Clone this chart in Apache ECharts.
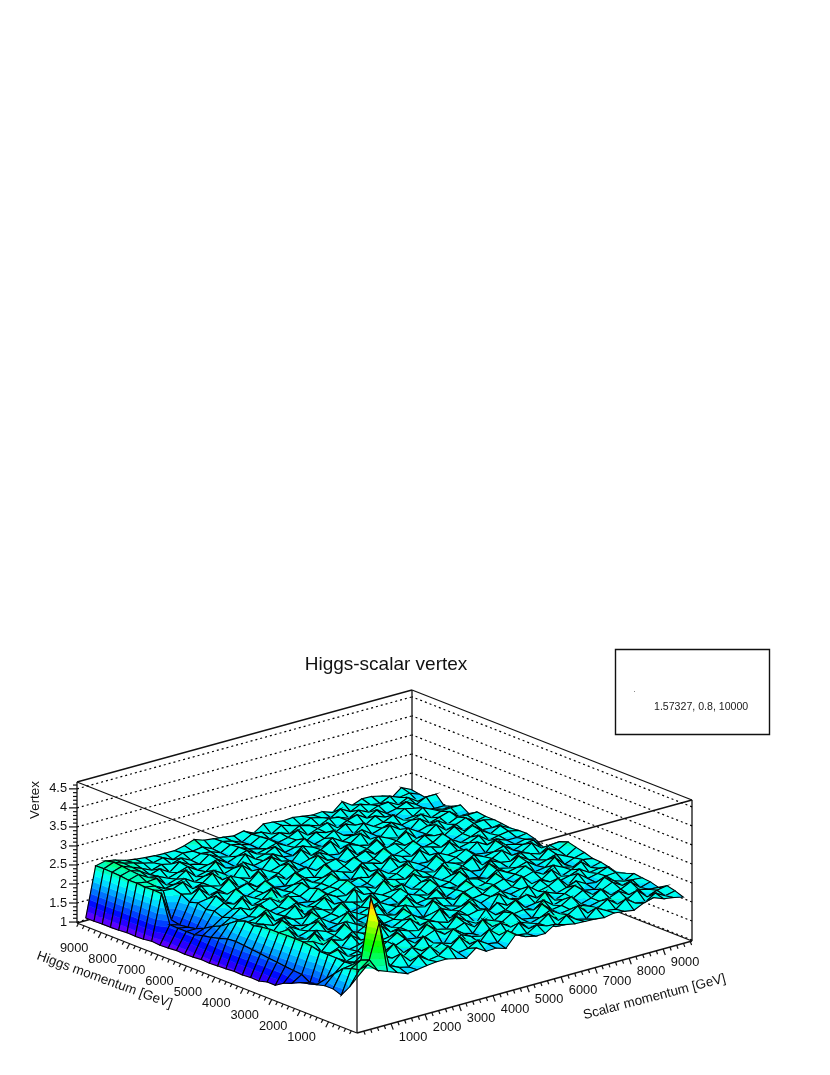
<!DOCTYPE html>
<html>
<head>
<meta charset="utf-8">
<title>Higgs-scalar vertex</title>
<script src="https://cdn.jsdelivr.net/npm/echarts@6/dist/echarts.min.js"></script>
<style>
  html, body { margin: 0; padding: 0; background: #fff; }
  #main { width: 830px; height: 1075px; }
</style>
</head>
<body>
<div id="main"></div>
<script>
// bin centres, GeV
var scalarMomentum = [145,435,725,1015,1305,1595,1885,2175,2465,2755,3045,3335,3625,3915,4205,4495,4785,5075,5365,5655,5945,6235,6525,6815,7105,7395,7685,7975,8265,8555,8845,9135,9425,9715];
var higgsMomentum = [145,435,725,1015,1305,1595,1885,2175,2465,2755,3045,3335,3625,3915,4205,4495,4785,5075,5365,5655,5945,6235,6525,6815,7105,7395,7685,7975,8265,8555,8845,9135,9425,9715];

// vertex: one row per Higgs bin, one column per scalar bin
var vertex = [
[2.38,2.62,2.40, 2.30,2.20,2.10,2.13,2.17,2.20,2.20,2.14,2.08,2.28, 2.12,2.13,2.05,2.34,2.22,2.16,2.16,2.33,2.25,2.20, 2.19,2.18,2.15,2.20,2.17,2.13,2.25,2.32,2.22,2.18, 2.12],
[2.02,2.40,2.59, 3.49,2.30,2.18,2.12,2.34,2.16,2.20,2.38,2.14,2.18, 2.32,2.16,2.12,2.36,2.18,2.14,2.30,2.20,2.12,2.34, 2.16,2.10,2.32,2.18,2.14,2.34,2.16,2.12,2.28,2.14, 2.20],
[1.72,2.35,2.50, 4.06,2.22,2.14,2.38,2.12,2.20,2.36,2.10,2.18,2.40, 2.14,2.10,2.38,2.16,2.08,2.34,2.12,2.18,2.36,2.12, 2.20,2.36,2.10,2.16,2.32,2.12,2.18,2.34,2.10,2.20, 2.25],
[1.80,2.26,2.30, 2.34,2.16,2.30,2.18,2.12,2.32,2.16,2.10,2.22,2.14, 2.30,2.18,2.12,2.20,2.32,2.14,2.20,2.10,2.18,2.30, 2.14,2.18,2.22,2.12,2.18,2.20,2.30,2.14,2.20,2.14, 2.12],
[1.80,2.05,2.28, 2.20,2.38,2.12,2.18,2.40,2.10,2.16,2.38,2.14,2.02, 2.36,2.18,2.10,2.40,2.14,2.20,2.36,2.12,2.08,2.38, 2.16,2.20,2.36,2.10,2.18,2.34,2.12,2.20,2.32,2.10, 2.18],
[1.74,1.83,2.30, 2.14,2.22,2.16,2.32,2.14,2.20,2.30,2.12,2.22,2.32, 2.14,2.20,2.30,2.12,2.24,2.14,2.30,2.18,2.22,2.14, 2.32,2.12,2.20,2.16,2.30,2.12,2.18,2.30,2.14,2.22, 2.20],
[1.68,1.60,2.30, 2.36,2.12,2.18,2.40,2.08,2.22,2.38,2.14,2.10,2.38, 2.18,2.12,2.38,2.20,2.06,2.36,2.14,2.20,2.38,2.12, 2.16,2.38,2.10,2.20,2.34,2.14,2.10,2.34,2.18,2.10, 2.23],
[1.63,1.55,2.30, 2.18,2.28,2.14,2.20,2.30,2.14,2.18,2.30,2.20,2.14, 2.32,2.22,2.14,2.30,2.18,2.24,2.12,2.30,2.16,2.22, 2.30,2.14,2.22,2.12,2.20,2.30,2.16,2.12,2.22,2.24, 2.15],
[1.52,1.68,2.35, 2.14,2.40,2.10,2.36,2.16,2.12,2.40,2.16,2.20,2.36, 2.12,2.18,2.40,2.10,2.22,2.38,2.14,2.02,2.38,2.18, 2.12,2.36,2.16,2.22,2.36,2.10,2.34,2.14,2.20,2.30, 2.07],
[1.44,1.70,2.38, 2.32,2.16,2.22,2.14,2.30,2.18,2.14,2.28,2.12,2.24, 2.32,2.14,2.20,2.26,2.14,2.18,2.32,2.12,2.22,2.30, 2.14,2.20,2.12,2.30,2.18,2.14,2.20,2.30,2.14,2.18, 2.14],
[1.30,1.72,2.38, 2.16,2.38,2.10,2.18,2.40,2.06,2.20,2.38,2.14,2.18, 2.38,2.12,2.02,2.38,2.18,2.10,2.38,2.16,2.20,2.36, 2.12,2.18,2.38,2.12,2.16,2.34,2.10,2.20,2.34,2.12, 2.19],
[1.30,1.75,2.38, 2.22,2.14,2.30,2.20,2.14,2.32,2.18,2.12,2.30,2.20, 2.14,2.32,2.20,2.14,2.30,2.22,2.12,2.24,2.32,2.14, 2.22,2.30,2.14,2.20,2.28,2.14,2.30,2.18,2.12,2.24, 2.20],
[1.24,1.77,2.37, 2.38,2.12,2.20,2.38,2.10,2.16,2.40,2.12,2.18,2.38, 2.08,2.20,2.38,2.14,2.18,2.36,2.10,2.22,2.38,2.12, 2.18,2.36,2.10,2.20,2.34,2.12,2.16,2.36,2.10,2.20, 2.27],
[1.25,1.80,2.37, 2.16,2.30,2.14,2.22,2.32,2.14,2.20,2.28,2.14,2.22, 2.30,2.16,2.12,2.30,2.20,2.14,2.30,2.18,2.14,2.28, 2.20,2.14,2.30,2.16,2.22,2.30,2.12,2.20,2.28,2.16, 2.32],
[1.23,1.82,2.34, 2.12,2.38,2.18,2.10,2.38,2.14,2.20,2.40,2.10,2.16, 2.40,2.14,2.20,2.36,2.06,2.20,2.38,2.12,2.18,2.38, 2.14,2.08,2.38,2.18,2.12,2.36,2.20,2.12,2.34,2.24, 2.38],
[1.24,1.85,2.30, 2.26,2.16,2.30,2.18,2.14,2.32,2.22,2.14,2.28,2.20, 2.14,2.30,2.18,2.22,2.32,2.12,2.24,2.30,2.14,2.20, 2.32,2.16,2.12,2.30,2.18,2.14,2.30,2.20,2.12,2.28, 2.30],
[1.22,1.87,2.33, 2.20,2.40,2.12,2.18,2.38,2.08,2.22,2.38,2.14,2.10, 2.38,2.18,2.12,2.40,2.16,2.10,2.36,2.20,2.14,2.38, 2.12,2.22,2.36,2.10,2.20,2.34,2.14,2.16,2.32,2.12, 2.10],
[1.21,1.85,2.25, 2.14,2.20,2.34,2.14,2.20,2.30,2.12,2.20,2.32,2.18, 2.14,2.30,2.22,2.12,2.28,2.20,2.14,2.32,2.18,2.12, 2.30,2.20,2.14,2.28,2.16,2.22,2.30,2.12,2.20,2.24, 1.99],
[1.20,1.78,2.10, 2.12,2.14,2.36,2.12,2.18,2.40,2.14,2.10,2.38,2.16, 2.22,2.38,2.10,2.16,2.38,2.12,2.20,2.38,2.08,2.16, 2.38,2.12,2.20,2.34,2.14,2.10,2.36,2.18,2.12,2.18, 2.12],
[1.21,1.72,1.95, 2.10,2.28,2.16,2.24,2.32,2.14,2.22,2.16,2.30,2.14, 2.20,2.30,2.14,2.22,2.16,2.30,2.12,2.20,2.30,2.16, 2.14,2.30,2.18,2.22,2.12,2.30,2.16,2.24,2.14,2.14, 2.18],
[1.19,1.68,1.85, 2.02,2.16,2.38,2.12,2.20,2.40,2.12,2.18,2.36,2.10, 2.20,2.38,2.14,2.08,2.38,2.16,2.12,2.38,2.18,2.10, 2.36,2.16,2.10,2.36,2.14,2.20,2.32,2.12,2.18,2.22, 2.17],
[1.18,1.62,1.72, 2.10,2.24,2.14,2.30,2.16,2.22,2.30,2.14,2.22,2.30, 2.14,2.20,2.30,2.20,2.12,2.30,2.22,2.14,2.30,2.18, 2.12,2.30,2.22,2.14,2.28,2.12,2.20,2.30,2.14,2.28, 2.15],
[1.19,1.62,1.62, 2.06,2.34,2.12,2.38,2.10,2.20,2.38,2.14,2.10,2.38, 2.18,2.12,2.38,2.10,2.20,2.36,2.10,2.18,2.38,2.12, 2.20,2.36,2.12,2.18,2.34,2.10,2.20,2.34,2.16,2.14, 2.18],
[1.17,1.62,1.58, 2.14,2.18,2.28,2.16,2.22,2.30,2.14,2.22,2.28,2.12, 2.22,2.30,2.14,2.24,2.30,2.14,2.20,2.30,2.14,2.22, 2.28,2.16,2.12,2.28,2.20,2.14,2.30,2.12,2.24,2.26, 2.20],
[1.16,1.63,1.55, 2.08,2.36,2.12,2.18,2.40,2.12,2.16,2.38,2.10,2.20, 2.38,2.14,2.10,2.38,2.18,2.12,2.36,2.12,2.20,2.36, 2.08,2.20,2.36,2.12,2.16,2.34,2.12,2.20,2.30,2.14, 2.20],
[1.18,2.36,1.60, 2.20,2.14,2.28,2.20,2.14,2.32,2.20,2.12,2.30,2.16, 2.24,2.30,2.12,2.20,2.30,2.16,2.12,2.30,2.20,2.14, 2.30,2.18,2.12,2.30,2.14,2.22,2.28,2.12,2.24,2.22, 2.23],
[1.15,2.37,2.28, 2.26,2.36,2.12,2.20,2.38,2.14,2.10,2.38,2.16,2.12, 2.38,2.20,2.10,2.36,2.14,2.22,2.36,2.10,2.18,2.36, 2.14,2.12,2.36,2.18,2.10,2.32,2.14,2.22,2.30,2.10, 2.10],
[1.14,2.36,2.32, 2.18,2.22,2.30,2.14,2.22,2.30,2.14,2.22,2.30,2.14, 2.20,2.30,2.16,2.12,2.30,2.20,2.14,2.30,2.14,2.22, 2.30,2.12,2.20,2.28,2.14,2.20,2.28,2.12,2.22,2.24, 2.24],
[1.15,2.38,2.34, 2.36,2.12,2.20,2.36,2.12,2.18,2.38,2.14,2.10,2.36, 2.16,2.22,2.34,2.12,2.18,2.34,2.12,2.20,2.34,2.14, 2.10,2.32,2.16,2.20,2.32,2.12,2.14,2.30,2.18,2.12, 2.12],
[1.13,2.37,2.45, 2.30,2.26,2.14,2.22,2.30,2.14,2.20,2.28,2.12,2.22, 2.30,2.14,2.20,2.28,2.14,2.22,2.12,2.28,2.20,2.14, 2.28,2.18,2.12,2.28,2.18,2.12,2.26,2.20,2.12,2.05, 2.05],
[1.12,2.40,2.47, 2.38,2.22,2.30,2.14,2.34,2.20,2.14,2.32,2.18,2.12, 2.30,2.18,2.12,2.30,2.14,2.20,2.32,2.12,2.22,2.30, 2.10,2.22,2.30,2.14,2.28,2.12,2.18,2.28,2.14,2.27, 2.27],
[1.12,2.41,2.50, 2.40,2.30,2.18,2.26,2.20,2.28,2.16,2.26,2.24,2.14, 2.28,2.22,2.14,2.28,2.14,2.24,2.14,2.28,2.22,2.14, 2.26,2.22,2.12,2.26,2.14,2.24,2.26,2.12,2.24,2.07, 2.07],
[1.11,2.42,2.52, 2.42,2.36,2.28,2.22,2.28,2.16,2.26,2.24,2.28,2.16, 2.28,2.22,2.12,2.26,2.24,2.12,2.28,2.20,2.14,2.26, 2.20,2.12,2.28,2.14,2.26,2.18,2.14,2.26,2.16,2.20, 2.10],
[1.11,2.41,2.47, 2.42,2.34,2.30,2.27,2.25,2.24,2.24,2.30,2.39,2.30, 2.27,2.24,2.20,2.26,2.13,2.30,2.28,2.24,2.26,2.22, 2.18,2.20,2.10,2.32,2.15,2.25,2.24,2.18,2.06,2.26, 2.14]
];

var zTicks = [1, 1.5, 2, 2.5, 3, 3.5, 4, 4.5];
var zTickLabels = ['1', '1.5', '2', '2.5', '3', '3.5', '4', '4.5'];
var momentumTicks = [1000, 2000, 3000, 4000, 5000, 6000, 7000, 8000, 9000];

var xMax = 9850, yMax = 9850, zMin = 0.975, zMax = 4.68;
var colorMax = 4.4, nBands = 23;

// box corners on the page
var front = [357, 1033], xEdge = [335, -92], yEdge = [-280, -110], zEdge = 141;

// 3D point to the 830x1075 plane of the hidden axes
function project(x, y, z) {
  var u = x / xMax, v = y / yMax, w = (z - zMin) / (zMax - zMin);
  return [
    front[0] + u * xEdge[0] + v * yEdge[0],
    front[1] + u * xEdge[1] + v * yEdge[1] - w * zEdge
  ];
}

function bandColor(k) {
  var hue = 280 * (1 - (k + 0.5) / nBands);
  return 'hsl(' + Math.max(hue, 0).toFixed(1) + ',100%,50%)';
}

// cut a polygon [x,y,z,...] down to the part between two heights
function clipAbove(poly, level, keepAbove) {
  var out = [];
  for (var n = 0; n < poly.length; n++) {
    var a = poly[n], b = poly[(n + 1) % poly.length];
    var inA = keepAbove ? a[2] >= level : a[2] <= level;
    var inB = keepAbove ? b[2] >= level : b[2] <= level;
    if (inA) out.push(a);
    if (inA !== inB) {
      var t = (level - a[2]) / (b[2] - a[2]);
      out.push([a[0] + t * (b[0] - a[0]), a[1] + t * (b[1] - a[1]), level]);
    }
  }
  return out;
}

function renderCell(params, api) {
  var i = api.value(0), j = api.value(1);
  var poly = [
    [scalarMomentum[i], higgsMomentum[j], vertex[j][i]],
    [scalarMomentum[i + 1], higgsMomentum[j], vertex[j][i + 1]],
    [scalarMomentum[i + 1], higgsMomentum[j + 1], vertex[j + 1][i + 1]],
    [scalarMomentum[i], higgsMomentum[j + 1], vertex[j + 1][i]]
  ];
  var toPage = function (p) { return api.coord(project(p[0], p[1], p[2])); };
  var children = [];
  var step = (colorMax - zMin) / nBands;
  var lo = Math.min(poly[0][2], poly[1][2], poly[2][2], poly[3][2]);
  var hi = Math.max(poly[0][2], poly[1][2], poly[2][2], poly[3][2]);
  for (var k = Math.max(0, Math.floor((lo - zMin) / step)); k < nBands; k++) {
    var bottom = zMin + k * step;
    if (bottom > hi) break;
    var piece = clipAbove(clipAbove(poly, bottom, true), bottom + step, false);
    if (piece.length < 3) continue;
    var c = bandColor(k);
    children.push({
      type: 'polygon',
      shape: { points: piece.map(toPage) },
      style: { fill: c, stroke: c, lineWidth: 0.5 }
    });
  }
  children.push({
    type: 'polygon',
    shape: { points: poly.map(toPage) },
    style: { fill: 'none', stroke: '#000', lineWidth: 1.1 }
  });
  return { type: 'group', children: children };
}

// surface cells, far corner first so nearer ones paint over
var cells = [];
for (var j = higgsMomentum.length - 2; j >= 0; j--) {
  for (var i = scalarMomentum.length - 2; i >= 0; i--) {
    cells.push([i, j]);
  }
}

// [x1,y1,z1,x2,y2,z2,dotted]
var backLines = [
  [0, yMax, zMin, xMax, yMax, zMin, 0],
  [xMax, 0, zMin, xMax, yMax, zMin, 0],
  [xMax, yMax, zMin, xMax, yMax, zMax, 0],
  [xMax, 0, zMin, xMax, 0, zMax, 0],
  [0, yMax, zMax, xMax, yMax, zMax, 0],
  [xMax, 0, zMax, xMax, yMax, zMax, 0],
  [0, yMax, zMax, 0, 0, zMax, 0],
  [xMax, 0, zMax, 0, 0, zMax, 0]
];
zTicks.forEach(function (z) {
  backLines.push([0, yMax, z, xMax, yMax, z, 1]);
  backLines.push([xMax, 0, z, xMax, yMax, z, 1]);
});

function renderLine(params, api) {
  var a = api.coord(project(api.value(0), api.value(1), api.value(2)));
  var b = api.coord(project(api.value(3), api.value(4), api.value(5)));
  return {
    type: 'line',
    shape: { x1: a[0], y1: a[1], x2: b[0], y2: b[1] },
    style: api.value(6)
      ? { stroke: '#000', lineWidth: 1.2, lineDash: [2, 3] }
      : { stroke: '#111', lineWidth: 1.3 }
  };
}

// axis lines in front of the surface
var axisLines = [
  [0, 0, zMin, xMax, 0, zMin, 0],
  [0, 0, zMin, 0, yMax, zMin, 0],
  [0, yMax, zMin, 0, yMax, zMax, 0],
  [0, 0, zMin, 0, 0, zMax, 0]
];

function tickSegment(p, dx, dy) {
  return { type: 'line', shape: { x1: p[0], y1: p[1], x2: p[0] + dx, y2: p[1] + dy }, style: { stroke: '#111', lineWidth: 1.2 } };
}

function renderTicks(params, api) {
  var children = [];
  var font = '12.8px "Liberation Sans", Arial, sans-serif';
  var v, p, major;
  for (v = 200; v < xMax; v += 200) {
    major = v % 1000 === 0;
    p = api.coord(project(v, 0, zMin));
    children.push(tickSegment(p, major ? 2.2 : 1.3, major ? 6 : 3.5));
    p = api.coord(project(0, v, zMin));
    children.push(tickSegment(p, major ? -2.8 : -1.7, major ? 5.4 : 3.2));
  }
  for (v = 10; v <= 46; v += 1) {
    major = v % 5 === 0;
    if (v / 10 < zMin || v / 10 > zMax) continue;
    p = api.coord(project(0, yMax, v / 10));
    children.push(tickSegment(p, major ? -8 : -4, 0));
  }
  momentumTicks.forEach(function (m) {
    var a = api.coord(project(m, 0, zMin));
    var b = api.coord(project(0, m, zMin));
    children.push({ type: 'text', style: { x: a[0] + 22, y: a[1] + 13.5, text: String(m), fill: '#111', font: font, align: 'center', verticalAlign: 'middle' } });
    children.push({ type: 'text', style: { x: b[0] - 27, y: b[1] + 15.5, text: String(m), fill: '#111', font: font, align: 'center', verticalAlign: 'middle' } });
  });
  zTicks.forEach(function (z, n) {
    var a = api.coord(project(0, yMax, z));
    children.push({ type: 'text', style: { x: a[0] - 10, y: a[1], text: zTickLabels[n], fill: '#111', font: font, align: 'right', verticalAlign: 'middle' } });
  });
  return { type: 'group', children: children };
}

var labelFont = '13.4px "Liberation Sans", Arial, sans-serif';

var chart = echarts.init(document.getElementById('main'));
chart.setOption({
  backgroundColor: '#fff',
  animation: false,
  title: {
    text: 'Higgs-scalar vertex',
    left: 381,
    top: 650,
    textAlign: 'center',
    textStyle: { fontFamily: '"Liberation Sans", Arial, sans-serif', fontSize: 19, fontWeight: 'normal', color: '#111' }
  },
  grid: { left: 0, right: 0, top: 0, bottom: 0 },
  xAxis: { type: 'value', min: 0, max: 830, show: false },
  yAxis: { type: 'value', min: 0, max: 1075, inverse: true, show: false },
  graphic: [
    { type: 'rect', shape: { x: 615.5, y: 649.5, width: 154, height: 85 }, style: { fill: '#fff', stroke: '#111', lineWidth: 1.4 } },
    { type: 'rect', shape: { x: 634, y: 691, width: 1, height: 1 }, style: { fill: '#888' } },
    { type: 'text', style: { x: 654, y: 707, text: '1.57327, 0.8, 10000', fill: '#222', font: '10.6px "Liberation Sans", Arial, sans-serif', verticalAlign: 'middle' } },
    { type: 'text', x: 35, y: 800, rotation: Math.PI / 2, style: { text: 'Vertex', fill: '#111', font: labelFont, align: 'center', verticalAlign: 'middle' } },
    { type: 'text', x: 104.5, y: 980, rotation: -20 * Math.PI / 180, style: { text: 'Higgs momentum [GeV]', fill: '#111', font: labelFont, align: 'center', verticalAlign: 'middle' } },
    { type: 'text', x: 654.5, y: 997, rotation: 14.7 * Math.PI / 180, style: { text: 'Scalar momentum [GeV]', fill: '#111', font: labelFont, align: 'center', verticalAlign: 'middle' } }
  ],
  series: [
    { type: 'custom', coordinateSystem: 'cartesian2d', silent: true, clip: false, z: 1, progressive: 0, data: backLines, renderItem: renderLine },
    { type: 'custom', coordinateSystem: 'cartesian2d', silent: true, clip: false, z: 2, progressive: 0, data: cells, renderItem: renderCell },
    { type: 'custom', coordinateSystem: 'cartesian2d', silent: true, clip: false, z: 3, progressive: 0, data: axisLines, renderItem: renderLine },
    { type: 'custom', coordinateSystem: 'cartesian2d', silent: true, clip: false, z: 3, progressive: 0, data: [[0]], renderItem: renderTicks }
  ]
});
</script>
</body>
</html>
